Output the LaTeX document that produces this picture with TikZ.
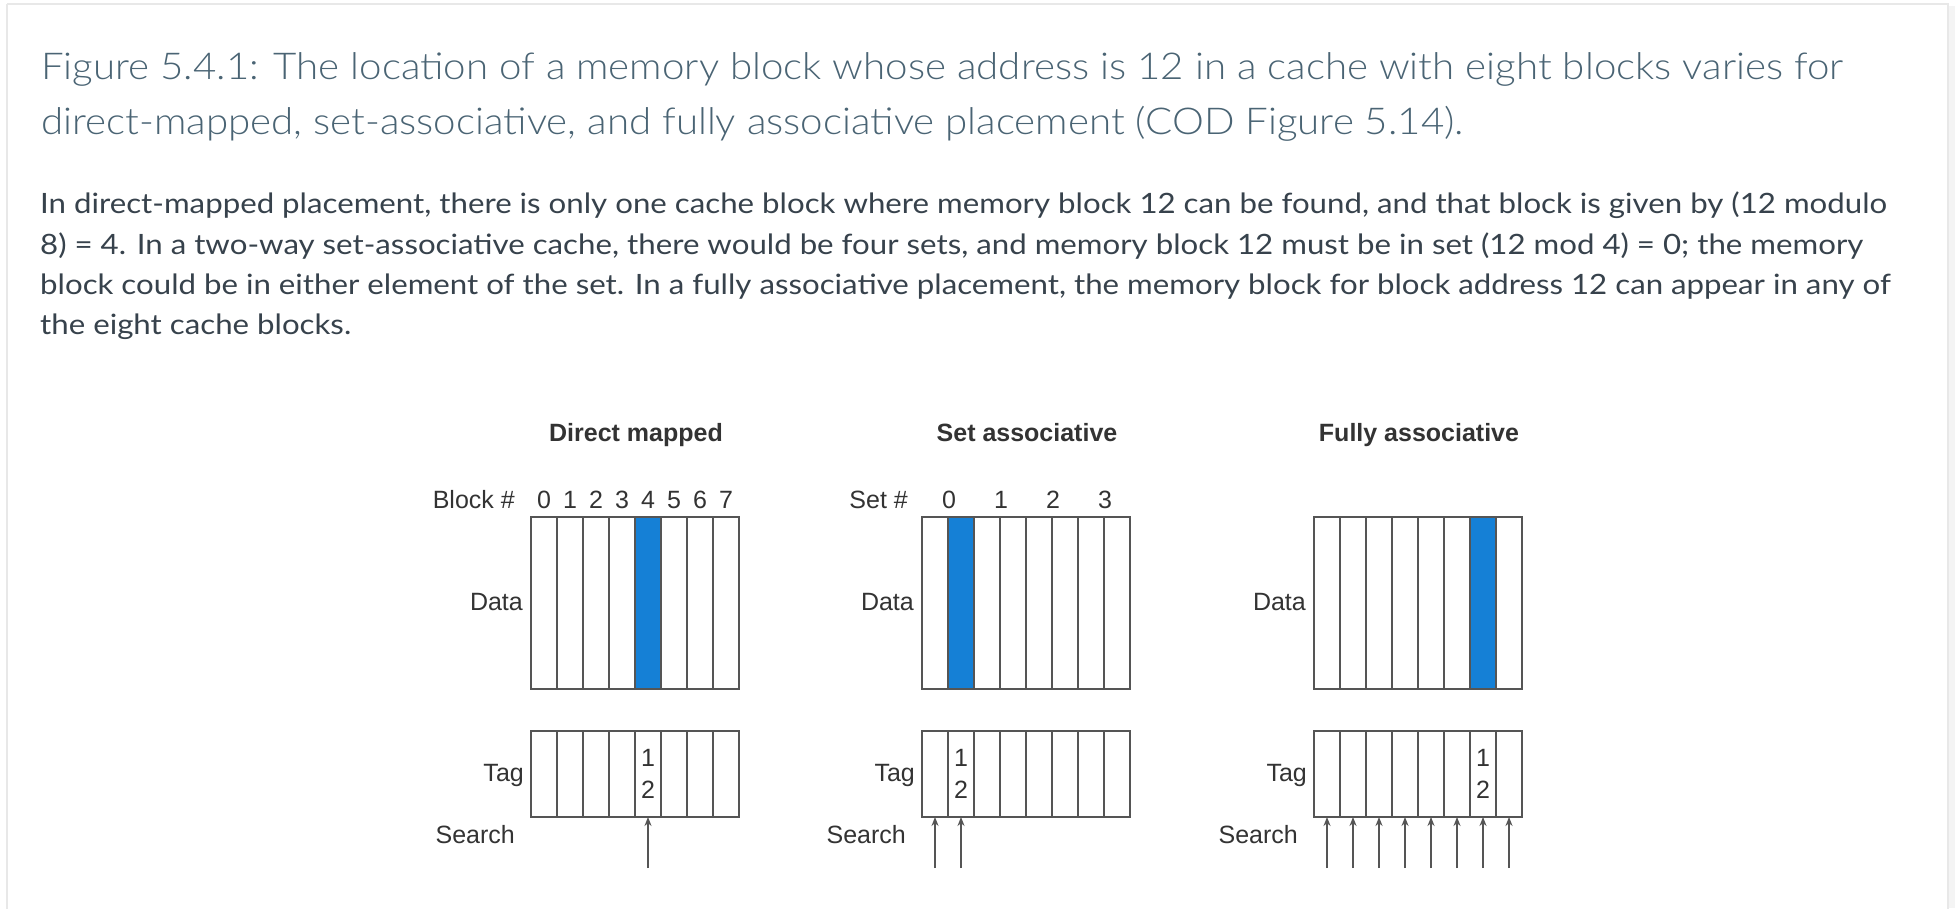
\documentclass[tikz,border=0pt]{standalone}
\usepackage{fontspec}
\setmainfont{Lato}
\newfontfamily\bodyf[FakeStretch=1.115]{Lato}
\IfFontExistsTF{Lato Light}{\newfontfamily\headf[FakeStretch=1.088]{Lato Light}}{\newfontfamily\headf[FakeStretch=1.07]{Lato}}
\newfontfamily\arialf{Liberation Sans}
\usetikzlibrary{arrows.meta}
\definecolor{titlecol}{HTML}{4A6474}
\definecolor{bodycol}{HTML}{37424C}
\definecolor{linecol}{HTML}{555555}
\definecolor{labcol}{HTML}{333333}
\definecolor{blockblue}{HTML}{1580D6}
\definecolor{cardedge}{HTML}{E8E8E8}
\tikzset{
  cellbox/.style={draw=linecol, line width=1.8pt, minimum width=26pt, inner sep=0pt, outer sep=0pt},
  datacell/.style={cellbox, minimum height=172pt},
  tagcell/.style={cellbox, minimum height=86pt},
  hot/.style={fill=blockblue},
  lab/.style={font=\arialf\fontsize{25}{30}\selectfont, text=labcol, inner sep=0pt, anchor=base east},
  digit/.style={font=\arialf\fontsize{25}{30}\selectfont, text=labcol, inner sep=0pt, anchor=base},
  ptitle/.style={font=\arialf\bfseries\fontsize{25}{30}\selectfont, text=labcol, inner sep=0pt, anchor=base},
  tagnum/.style={font=\arialf\fontsize{25}{32}\selectfont, text=labcol, inner sep=0pt, align=center},
  searcharrow/.style={draw=linecol, line width=1.4pt, -{Stealth[length=9pt,width=7pt]}},
  headline/.style={font=\headf\fontsize{37}{53}\selectfont, text=titlecol, inner sep=0pt, anchor=base west},
  bodyline/.style={font=\bodyf\fontsize{28}{40}\selectfont, text=bodycol, inner sep=0pt, anchor=base west}
}
\begin{document}
\begin{tikzpicture}[x=1pt,y=-1pt]
\useasboundingbox (0,0) rectangle (1958,908);
\fill[white] (0,0) rectangle (1958,908);
\fill[cardedge!50] (1948,6) rectangle (1955,908);
\draw[cardedge, line width=2.5pt] (7,4) -- (1948,4) -- (1948,912) (7,4) -- (7,912);

% caption
\node[headline] (t1) at (41,79) {Figure 5.4.1: The location of a memory block whose address is 12 in a cache with eight blocks varies for};
\node[headline] (t2) at (41,134) {direct-mapped, set-associative, and fully associative placement (COD Figure 5.14).};
\node[bodyline] (b1) at (40,213.5) {In direct-mapped placement, there is only one cache block where memory block 12 can be found, and that block is given by (12 modulo};
\node[bodyline] (b2) at (40,254.5) {8) = 4. In a two-way set-associative cache, there would be four sets, and memory block 12 must be in set (12 mod 4) = 0; the memory};
\node[bodyline] (b3) at (40,294.5) {block could be in either element of the set. In a fully associative placement, the memory block for block address 12 can appear in any of};
\node[bodyline] (b4) at (40,334.5) {the eight cache blocks.};

% panels
\foreach \p/\L/\hot/\ttl in {1/531/4/Direct mapped, 2/922/1/Set associative, 3/1314/6/Fully associative} {
  \foreach \i in {0,...,7} {
    \pgfmathsetmacro{\cx}{\L+13+26*\i}
    \ifnum\i=\hot
      \node[datacell, hot] (d\p-\i) at (\cx,603) {};
    \else
      \node[datacell] (d\p-\i) at (\cx,603) {};
    \fi
    \node[tagcell] (g\p-\i) at (\cx,774) {};
  }
  \node[ptitle] (title\p) at (\L+105,441) {\ttl};
  \node[lab] (data\p) at (\L-8,610) {Data};
  \node[lab] (tag\p) at (\L-7,781) {Tag};
  \node[lab] (search\p) at (\L-16,843) {Search};
}

% tag value 12
\node[tagnum] (v1) at (g1-4) {1\\2};
\node[tagnum] (v2) at (g2-1) {1\\2};
\node[tagnum] (v3) at (g3-6) {1\\2};

% block / set numbers
\node[lab] (blk) at (515,508) {Block \#};
\foreach \i in {0,...,7} {
  \node[digit] (bn\i) at (544+26*\i,508) {\i};
}
\node[lab] (setl) at (908,508) {Set \#};
\foreach \i in {0,...,3} {
  \node[digit] (sn\i) at (949+52*\i,508) {\i};
}

% search arrows
\coordinate (s1-4) at (648,868);
\draw[searcharrow] (s1-4) -- (g1-4.south);
\foreach \i in {0,1} {
  \coordinate (s2-\i) at (935+26*\i,868);
  \draw[searcharrow] (s2-\i) -- (g2-\i.south);
}
\foreach \i in {0,...,7} {
  \coordinate (s3-\i) at (1327+26*\i,868);
  \draw[searcharrow] (s3-\i) -- (g3-\i.south);
}
\end{tikzpicture}
\end{document}
